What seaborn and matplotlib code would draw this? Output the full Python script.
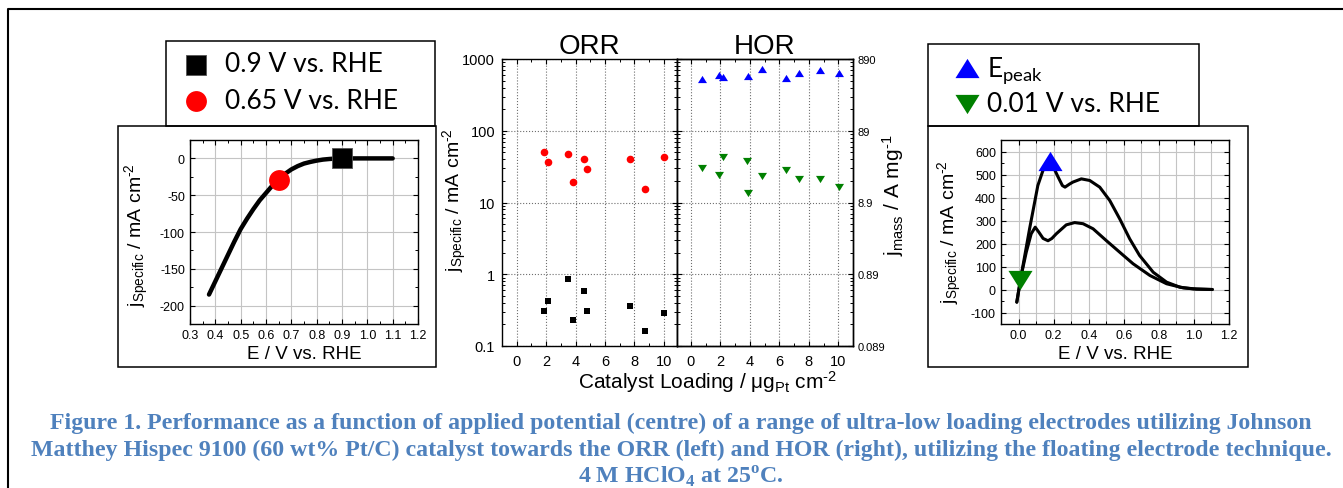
import matplotlib
matplotlib.use("Agg")
import matplotlib.pyplot as plt
import seaborn as sns
from matplotlib.patches import Rectangle
from matplotlib.lines import Line2D
from matplotlib.ticker import MultipleLocator, LogLocator, NullFormatter, FixedLocator, FuncFormatter

# ── Data ─────────────────────────────────────────────────────────────────
# left panel: ORR polarisation curve
orr_E = [0.375, 0.40, 0.425, 0.45, 0.475, 0.50, 0.525, 0.55, 0.575, 0.60, 0.625,
         0.65, 0.675, 0.70, 0.725, 0.75, 0.775, 0.80, 0.825, 0.85, 0.875, 0.90, 1.00, 1.10]
orr_j = [-185, -167, -149, -131, -113, -96, -82, -69, -57, -47, -37,
         -29, -21, -15, -10.5, -7, -4.8, -3, -1.6, -0.8, -0.2, 0, 0, 0]
orr_mark_E = [0.9, 0.65]
orr_mark_j = [0, -30]
orr_labels = ["0.9 V vs. RHE", "0.65 V vs. RHE"]

# centre panel: specific activity vs catalyst loading
load_orr = [1.83, 2.10, 3.46, 3.82, 4.59, 4.80, 7.71, 8.73, 10.02]
orr_065 = [50, 37, 47, 19, 41, 29.5, 41, 15.5, 43]
orr_09 = [0.31, 0.43, 0.87, 0.23, 0.59, 0.31, 0.36, 0.16, 0.29]

load_hor_peak = [0.74, 1.87, 2.14, 3.84, 4.83, 6.43, 7.36, 8.78, 10.05]
hor_peak = [526, 604, 555, 578, 725, 543, 631, 695, 638]
load_hor_001 = [0.74, 1.87, 2.14, 3.81, 3.86, 4.83, 6.43, 7.36, 8.78, 10.05]
hor_001 = [29.8, 24.1, 43.4, 38.1, 13.4, 23.3, 28.0, 21.6, 21.4, 16.5]

spec_ticks = [0.1, 1, 10, 100, 1000]
mass_tick_labels = ["0.089", "0.89", "8.9", "89", "890"]

# right panel: HOR voltammograms
cv_up_E = [-0.01, 0.015, 0.063, 0.11, 0.139, 0.177, 0.20, 0.225, 0.25, 0.265, 0.29, 0.31,
           0.358, 0.406, 0.463, 0.52, 0.577, 0.634, 0.69, 0.768, 0.844, 0.92, 0.996, 1.105]
cv_up_j = [-55, 60, 264, 452, 517, 560, 530, 490, 452, 445, 458, 467,
           481, 474, 445, 387, 307, 220, 148, 75, 32, 10, 3, 0]
cv_lo_E = [-0.01, 0.015, 0.044, 0.072, 0.095, 0.116, 0.14, 0.168, 0.19, 0.215, 0.272, 0.32,
           0.368, 0.425, 0.50, 0.577, 0.653, 0.749, 0.844, 0.939, 1.015, 1.105]
cv_lo_j = [-55, 60, 162, 242, 271, 249, 222, 212, 222, 242, 281, 291,
           286, 264, 213, 162, 112, 61, 25, 7, 1.5, 0]
hor_mark_E = [0.18, 0.01]
hor_mark_j = [560, 40]
hor_labels = [r"E$_{\mathsf{peak}}$", "0.01 V vs. RHE"]

caption = [
    "Figure 1. Performance as a function of applied potential (centre) of a range of "
    "ultra-low loading electrodes utilizing Johnson",
    "Matthey Hispec 9100 (60 wt% Pt/C) catalyst towards the ORR (left) and HOR (right), "
    "utilizing the floating electrode technique.",
    r"4 M HClO$_{\mathbf{4}}$ at 25$^{\mathbf{o}}$C.",
]

# ── Style ────────────────────────────────────────────────────────────────
W, H = 1343, 489
sns.set_theme(style="ticks")
plt.rcParams.update({
    "font.family": ["Liberation Sans", "DejaVu Sans"],
    "mathtext.fontset": "custom",
    "mathtext.rm": "Liberation Sans",
    "mathtext.it": "Liberation Sans:italic",
    "mathtext.bf": "Liberation Serif:bold",
    "mathtext.sf": "Lato",
    "axes.unicode_minus": False,
    "axes.edgecolor": "black",
    "axes.linewidth": 1.0,
    "text.color": "black",
    "xtick.color": "black",
    "ytick.color": "black",
    "xtick.direction": "in",
    "ytick.direction": "in",
    "xtick.major.size": 3.5,
    "ytick.major.size": 3.5,
    "xtick.minor.size": 2.0,
    "ytick.minor.size": 2.0,
    "xtick.major.width": 0.8,
    "ytick.major.width": 0.8,
    "xtick.minor.width": 0.7,
    "ytick.minor.width": 0.7,
})

RED, BLUE, GREEN = "#ff0000", "#0000ff", "#008000"
CAP_BLUE = "#4f81bd"
TRI_UP = [(-1, -0.8), (1, -0.8), (0, 0.8)]
TRI_DN = [(-1, 0.8), (1, 0.8), (0, -0.8)]
SPEC = r"j$_{\rm Specific}$ / mA cm$^{\rm \text{-}2}$"

fig = plt.figure(figsize=(W / 100, H / 100), dpi=100)


def rect(x0, y0, x1, y1):
    return [x0 / W, 1 - y1 / H, (x1 - x0) / W, (y1 - y0) / H]


def box(x0, y0, x1, y1, lw=1.1):
    fig.add_artist(Rectangle((x0 / W, 1 - y1 / H), (x1 - x0) / W, (y1 - y0) / H,
                             transform=fig.transFigure, fill=False, ec="black", lw=lw))


def label(x, y, s, rot=0, size=14, **kw):
    fig.text(x / W, 1 - y / H, s, rotation=rot, ha="center", va="center", fontsize=size, **kw)


def style_lin(ax, xmaj, xmin, ymaj, ymin, grid_minor_x=False):
    ax.xaxis.set_major_locator(MultipleLocator(xmaj))
    ax.xaxis.set_minor_locator(MultipleLocator(xmin))
    ax.yaxis.set_major_locator(MultipleLocator(ymaj))
    ax.yaxis.set_minor_locator(MultipleLocator(ymin))
    ax.tick_params(which="both", top=True, right=True, labelsize=9, pad=3.6)
    ax.grid(which="major", color="#c4c4c4", lw=0.8)
    if grid_minor_x:
        ax.grid(which="minor", axis="x", color="#c4c4c4", lw=0.8)
    ax.set_axisbelow(True)
    ax.set_xlabel("")
    ax.set_ylabel("")


# ── Frames ───────────────────────────────────────────────────────────────
fig.add_artist(Line2D([8 / W, 8 / W, 1], [0, 1 - 10 / H, 1 - 10 / H],
                      transform=fig.transFigure, color="black", lw=1.5))
box(166, 42, 435, 127)
box(118, 127, 436, 368)
box(928, 45, 1199, 127)
box(928, 127, 1248, 368)

# ── Left panel: ORR ──────────────────────────────────────────────────────
axL = fig.add_axes(rect(190, 141, 418, 325))
sns.lineplot(x=orr_E, y=orr_j, ax=axL, color="black", linewidth=3.2,
             sort=False, estimator=None)
sns.scatterplot(x=orr_mark_E[:1], y=orr_mark_j[:1], ax=axL, marker="s", s=215,
                color="black", linewidth=0.6, edgecolor="#555555", zorder=3)
sns.scatterplot(x=orr_mark_E[1:], y=orr_mark_j[1:], ax=axL, marker="o", s=225,
                color=RED, linewidth=0, zorder=3)
axL.set_xlim(0.3, 1.2)
axL.set_ylim(-225, 25)
style_lin(axL, 0.1, 0.05, 50, 25)
orr_handles = axL.collections[-2:]
label(137, 235, SPEC, rot=90, size=14)
label(304, 355, "E / V vs. RHE", size=13.5)

# ── Centre panel: ORR / HOR activity vs loading ─────────────────────────
axO = fig.add_axes(rect(502, 60, 677, 347))
axH = fig.add_axes(rect(677, 60, 853, 347))
for ax in (axO, axH):
    ax.set_yscale("log")
    ax.set_ylim(0.1, 1000)

sns.scatterplot(x=load_orr, y=orr_065, ax=axO, marker="o", s=30, color=RED, linewidth=0, zorder=3)
sns.scatterplot(x=load_orr, y=orr_09, ax=axO, marker="s", s=22, color="black", linewidth=0, zorder=3)
sns.scatterplot(x=load_hor_peak, y=hor_peak, ax=axH, marker=TRI_UP, s=42, color=BLUE,
                linewidth=0, zorder=3)
sns.scatterplot(x=load_hor_001, y=hor_001, ax=axH, marker=TRI_DN, s=42, color=GREEN,
                linewidth=0, zorder=3)
axO.set_xlim(-1, 10.9)
axH.set_xlim(-0.95, 11)

for ax in (axO, axH):
    ax.set_ylim(0.1, 1000)
    ax.yaxis.set_major_locator(FixedLocator(spec_ticks))
    ax.yaxis.set_minor_locator(LogLocator(base=10, subs=range(2, 10), numticks=20))
    ax.yaxis.set_minor_formatter(NullFormatter())
    ax.yaxis.set_major_formatter(FuncFormatter(lambda v, p: f"{v:g}"))
    ax.xaxis.set_major_locator(MultipleLocator(2))
    ax.xaxis.set_minor_locator(MultipleLocator(1))
    ax.grid(which="major", ls=":", color="#6e6e6e", lw=0.8)
    ax.set_axisbelow(True)
    ax.set_xlabel("")
    ax.set_ylabel("")
axO.tick_params(which="both", top=True, right=True, labelsize=10.5)
axO.tick_params(axis="y", pad=5)
axO.tick_params(axis="x", pad=5.5)
axH.tick_params(which="both", top=True, left=True, right=False, labelleft=False, labelsize=10.5)
axH.tick_params(axis="x", pad=5.5)
axO.set_title("ORR", fontsize=20, pad=3.6)
axH.set_title("HOR", fontsize=20, pad=3.6)

axM = axH.twinx()
axM.set_yscale("log")
axM.set_ylim(0.1, 1000)
axM.yaxis.set_major_locator(FixedLocator(spec_ticks))
axM.yaxis.set_major_formatter(FuncFormatter(lambda v, p: mass_tick_labels[spec_ticks.index(v)]
                                            if v in spec_ticks else ""))
axM.yaxis.set_minor_locator(LogLocator(base=10, subs=range(2, 10), numticks=20))
axM.yaxis.set_minor_formatter(NullFormatter())
axM.tick_params(which="both", right=True, labelsize=8, pad=3.6)
axM.grid(False)

label(455, 200, SPEC, rot=90, size=14)
label(893, 195, r"j$_{\rm mass}$ / A mg$^{\rm \text{-}1}$", rot=90, size=15)
fig.text(708 / W, 1 - 389 / H, "Catalyst Loading / μg$_{\\rm Pt}$ cm$^{\\rm \\text{-}2}$",
         ha="center", va="baseline", fontsize=15)

# ── Right panel: HOR ─────────────────────────────────────────────────────
axR = fig.add_axes(rect(1001, 141, 1229, 325))
sns.lineplot(x=cv_up_E, y=cv_up_j, ax=axR, color="black", linewidth=2.2, sort=False, estimator=None)
sns.lineplot(x=cv_lo_E, y=cv_lo_j, ax=axR, color="black", linewidth=2.2, sort=False, estimator=None)
sns.scatterplot(x=hor_mark_E[:1], y=hor_mark_j[:1], ax=axR, marker=TRI_UP, s=300,
                color=BLUE, linewidth=0, zorder=3)
sns.scatterplot(x=hor_mark_E[1:], y=hor_mark_j[1:], ax=axR, marker=TRI_DN, s=300,
                color=GREEN, linewidth=0, zorder=3)
axR.set_xlim(-0.1, 1.2)
axR.set_ylim(-150, 650)
style_lin(axR, 0.2, 0.1, 100, 50, grid_minor_x=True)
hor_handles = axR.collections[-2:]
label(950, 232, SPEC, rot=90, size=14)
label(1115, 355, "E / V vs. RHE", size=13.5)

# ── Legends ──────────────────────────────────────────────────────────────
leg_font = {"family": "Lato", "size": 19}
fig.legend(orr_handles, orr_labels, loc="center left", bbox_to_anchor=(182.5 / W, 1 - 83 / H),
           frameon=False, borderpad=0, borderaxespad=0, handlelength=1.0,
           handletextpad=0.6, labelspacing=0.42, prop=leg_font)
fig.legend(hor_handles, hor_labels, loc="center left", bbox_to_anchor=(953.8 / W, 1 - 86 / H),
           frameon=False, borderpad=0, borderaxespad=0, handlelength=1.0,
           handletextpad=0.26, labelspacing=0.25, prop=leg_font)

# ── Caption ──────────────────────────────────────────────────────────────
cap_y = [429, 456, 483]
cap_texts = [fig.text(681 / W, 1 - y / H, s, ha="center", va="baseline", fontsize=17,
                      family="Liberation Serif", weight="bold", color=CAP_BLUE)
             for s, y in zip(caption, cap_y)]
fig.canvas.draw()
width = cap_texts[0].get_window_extent().width
for t in cap_texts:
    t.set_fontsize(17 * 1262 / width)

fig.savefig("out.png", dpi=100)
